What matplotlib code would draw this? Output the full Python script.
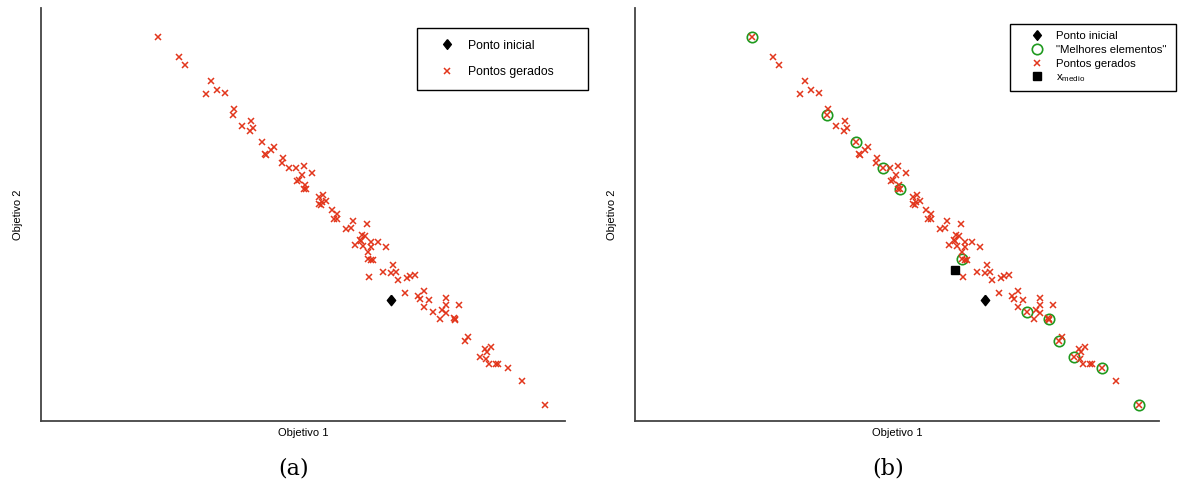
import matplotlib
matplotlib.use("Agg")
import matplotlib.pyplot as plt
from matplotlib.lines import Line2D

# Generated points (normalised objective values)
obj1 = [0.224, 0.263, 0.275, 0.324, 0.335, 0.351, 0.314, 0.368, 0.366, 0.401,
        0.384, 0.405, 0.399, 0.422, 0.444, 0.438, 0.427, 0.430, 0.462, 0.459,
        0.473, 0.487, 0.502, 0.499, 0.517, 0.492, 0.489, 0.504, 0.505, 0.502,
        0.539, 0.531, 0.543, 0.536, 0.531, 0.534, 0.555, 0.565, 0.560, 0.564,
        0.596, 0.622, 0.583, 0.591, 0.612, 0.618, 0.608, 0.610, 0.629, 0.644,
        0.599, 0.614, 0.629, 0.659, 0.624, 0.624, 0.630, 0.634, 0.672, 0.653,
        0.667, 0.677, 0.625, 0.682, 0.699, 0.704, 0.714, 0.730, 0.695, 0.719,
        0.724, 0.773, 0.741, 0.773, 0.798, 0.730, 0.765, 0.748, 0.772, 0.761,
        0.788, 0.791, 0.790, 0.815, 0.810, 0.859, 0.847, 0.852, 0.837, 0.849,
        0.855, 0.868, 0.873, 0.892, 0.917, 0.961]
obj2 = [0.929, 0.881, 0.862, 0.822, 0.802, 0.795, 0.791, 0.756, 0.741, 0.726,
        0.713, 0.709, 0.702, 0.675, 0.664, 0.655, 0.647, 0.643, 0.636, 0.624,
        0.612, 0.613, 0.618, 0.595, 0.599, 0.583, 0.580, 0.570, 0.561, 0.562,
        0.548, 0.541, 0.533, 0.530, 0.524, 0.523, 0.511, 0.501, 0.489, 0.488,
        0.484, 0.476, 0.465, 0.467, 0.450, 0.448, 0.439, 0.435, 0.433, 0.432,
        0.425, 0.423, 0.420, 0.422, 0.408, 0.391, 0.390, 0.389, 0.377, 0.360,
        0.357, 0.360, 0.347, 0.340, 0.346, 0.351, 0.354, 0.315, 0.309, 0.302,
        0.294, 0.298, 0.292, 0.280, 0.280, 0.276, 0.269, 0.263, 0.260, 0.246,
        0.249, 0.243, 0.246, 0.202, 0.194, 0.179, 0.174, 0.166, 0.154, 0.150,
        0.138, 0.138, 0.138, 0.128, 0.095, 0.039]

# "Melhores elementos"
best_obj1 = [0.224, 0.366, 0.422, 0.473, 0.505, 0.624, 0.748, 0.790, 0.810, 0.837, 0.892, 0.961]
best_obj2 = [0.929, 0.741, 0.675, 0.612, 0.561, 0.391, 0.263, 0.246, 0.194, 0.154, 0.128, 0.039]

# Initial point and x_medio
start_obj1, start_obj2 = [0.667], [0.293]
mean_obj1, mean_obj2 = [0.611], [0.365]

RED = "#e2361c"
GREEN = "#1f9a1f"
SANS = "Liberation Sans"
DIAMOND = [(0, 1), (0.8, 0), (0, -1), (-0.8, 0), (0, 1)]

W, H = 1179, 488


def draw_panel(ax, with_best):
    ax.plot(start_obj1, start_obj2, linestyle="none", marker=DIAMOND, color="black",
            markersize=7.5, zorder=4)
    if with_best:
        ax.plot(best_obj1, best_obj2, linestyle="none", marker="o", markersize=7.5,
                markerfacecolor="none", markeredgecolor=GREEN, markeredgewidth=1.2, zorder=2)
    ax.plot(obj1, obj2, linestyle="none", marker="x", color=RED,
            markersize=4.2, markeredgewidth=1.1, zorder=3)
    if with_best:
        ax.plot(mean_obj1, mean_obj2, linestyle="none", marker="s", color="black",
                markersize=5.5, zorder=4)

    ax.set_xlim(0, 1)
    ax.set_ylim(0, 1)
    ax.set_xticks([])
    ax.set_yticks([])
    for side in ("top", "right"):
        ax.spines[side].set_visible(False)
    for side in ("left", "bottom"):
        ax.spines[side].set_color("#444444")
        ax.spines[side].set_linewidth(1.3)
    ax.set_xlabel("Objetivo 1", fontname=SANS, fontsize=8, labelpad=5)
    ax.set_ylabel("Objetivo 2", fontname=SANS, fontsize=8, labelpad=13)


fig = plt.figure(figsize=(W / 100, H / 100), dpi=100)
ax_a = fig.add_axes([41 / W, (H - 420.7) / H, 524 / W, 412.7 / H])
ax_b = fig.add_axes([635 / W, (H - 420.7) / H, 524 / W, 412.7 / H])

draw_panel(ax_a, with_best=False)
draw_panel(ax_b, with_best=True)

h_start = Line2D([], [], linestyle="none", marker=DIAMOND, color="black", markersize=7)
h_best = Line2D([], [], linestyle="none", marker="o", markersize=7.5,
                markerfacecolor="none", markeredgecolor=GREEN, markeredgewidth=1.2)
h_gen = Line2D([], [], linestyle="none", marker="x", color=RED, markersize=4, markeredgewidth=1.1)
h_mean = Line2D([], [], linestyle="none", marker="s", color="black", markersize=5.5)

leg_a = fig.legend([h_start, h_gen], ["Ponto inicial", "Pontos gerados"],
                   loc="upper left", bbox_to_anchor=(417 / W, 1 - 28 / H, 171 / W, 0),
                   mode="expand", borderaxespad=0, fancybox=False, framealpha=1,
                   edgecolor="black", prop={"family": SANS, "size": 8.8},
                   handlelength=3.0, handletextpad=0.2, labelspacing=1.2,
                   borderpad=0.95)
leg_a.get_frame().set_linewidth(1.0)

leg_b = fig.legend([h_start, h_best, h_gen, h_mean],
                   ["Ponto inicial", "\"Melhores elementos\"", "Pontos gerados",
                    r"$\mathregular{x_{medio}}$"],
                   loc="upper left", bbox_to_anchor=(1010 / W, 1 - 24 / H, 166 / W, 0),
                   mode="expand", borderaxespad=0, fancybox=False, framealpha=1,
                   edgecolor="black", prop={"family": SANS, "size": 8.2},
                   handlelength=3.4, handletextpad=0.05, labelspacing=0.33,
                   borderpad=0.63)
leg_b.get_frame().set_linewidth(1.0)

fig.text(294 / W, 1 - 468 / H, "(a)", ha="center", va="center",
         fontname="DejaVu Serif", fontsize=16)
fig.text(888 / W, 1 - 468 / H, "(b)", ha="center", va="center",
         fontname="DejaVu Serif", fontsize=16)

fig.savefig("out.png", dpi=100)
plt.close(fig)
